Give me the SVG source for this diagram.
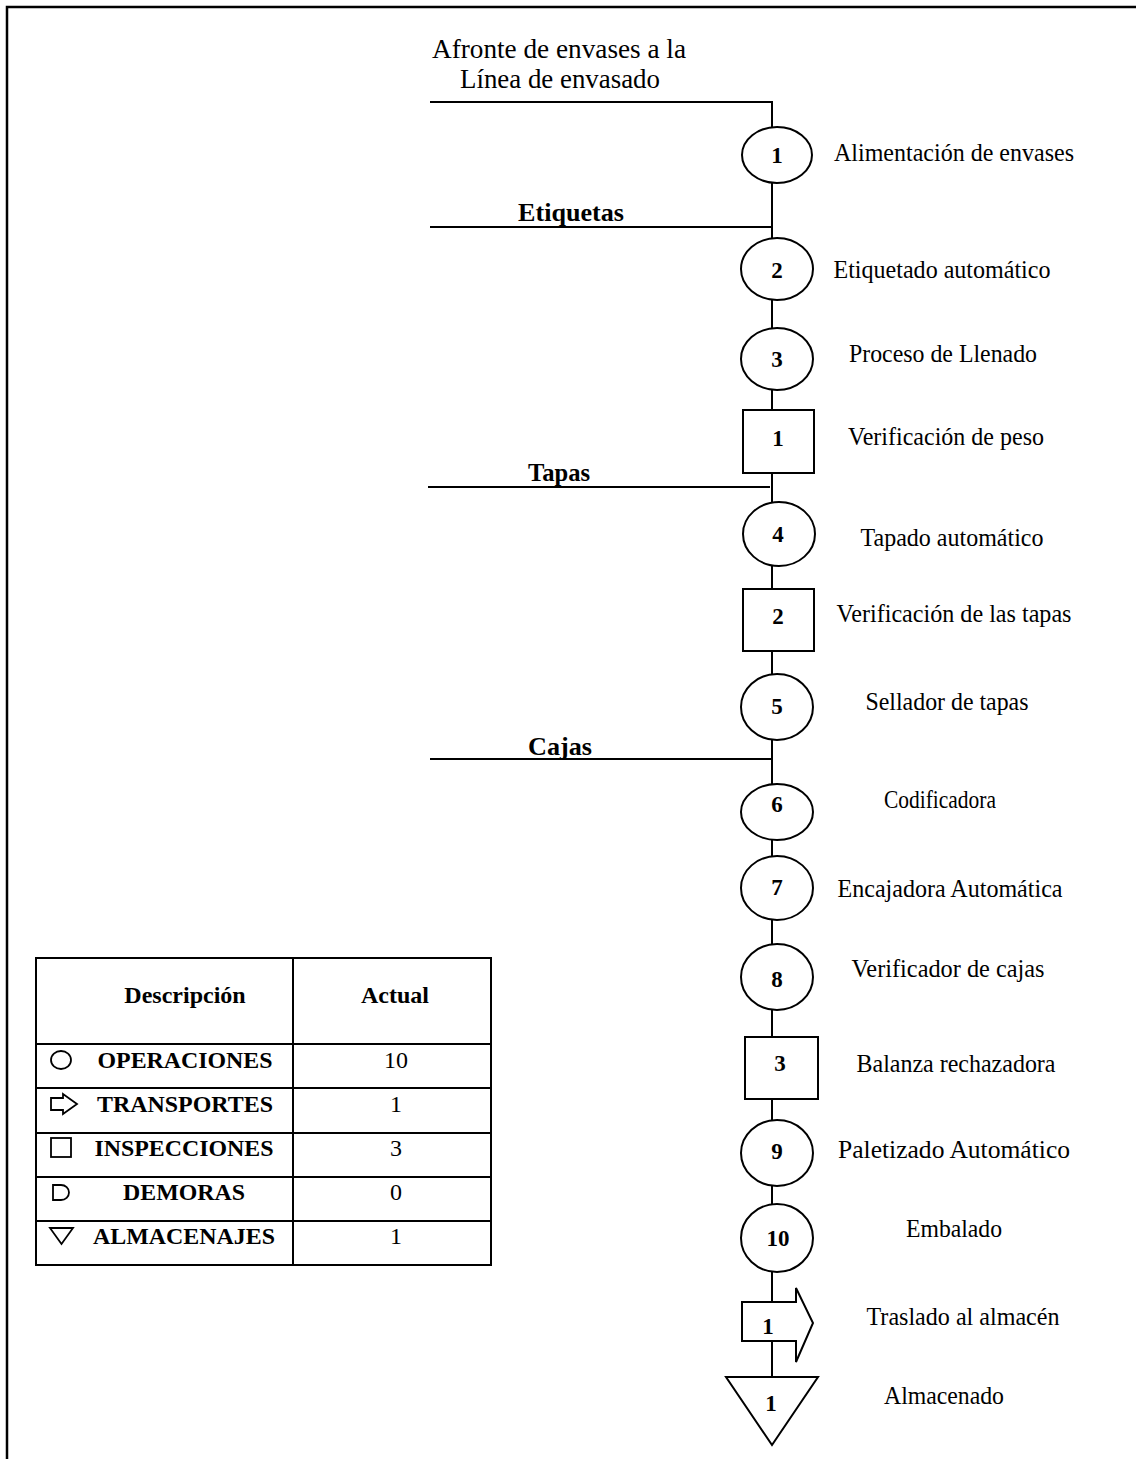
<svg xmlns="http://www.w3.org/2000/svg" width="1136" height="1459" viewBox="0 0 1136 1459">
<style>
  .ln{stroke:#000;stroke-width:2;fill:none}
  .sh{stroke:#000;stroke-width:2;fill:#fff}
  .num{font-family:"Liberation Serif","Times New Roman",serif;font-weight:bold;font-size:23px;text-anchor:middle;fill:#000}
  .lbl{font-family:"Liberation Serif","Times New Roman",serif;font-size:25.5px;text-anchor:middle;fill:#000}
  .bl{font-family:"Liberation Serif","Times New Roman",serif;font-weight:bold;font-size:25px;text-anchor:middle;fill:#000}
  .ttl{font-family:"Liberation Serif","Times New Roman",serif;font-size:28px;text-anchor:middle;fill:#000}
  .th{font-family:"Liberation Serif","Times New Roman",serif;font-weight:bold;font-size:24px;text-anchor:middle;fill:#000}
  .tv{font-family:"Liberation Serif","Times New Roman",serif;font-size:24px;text-anchor:middle;fill:#000}
  .ic{stroke:#000;stroke-width:1.8;fill:none}
</style>
<rect width="1136" height="1459" fill="#fff"/>
<path d="M7,1459 V7 H1136" fill="none" stroke="#000" stroke-width="2.5"/>

<g id="title">
  <text class="ttl" x="559" y="58" textLength="254" lengthAdjust="spacingAndGlyphs">Afronte de envases a la</text>
  <text class="ttl" x="560" y="88" textLength="200" lengthAdjust="spacingAndGlyphs">Línea de envasado</text>
</g>

<g id="connectors">
  <path class="ln" d="M430,102 H772 V1377"/>
  <line class="ln" x1="430" y1="227" x2="772" y2="227"/>
  <line class="ln" x1="428" y1="487" x2="770" y2="487"/>
  <line class="ln" x1="430" y1="759" x2="772" y2="759"/>
  <text class="bl" x="571" y="221" textLength="106" lengthAdjust="spacingAndGlyphs">Etiquetas</text>
  <text class="bl" x="559" y="481" textLength="62" lengthAdjust="spacingAndGlyphs">Tapas</text>
  <text class="bl" x="560" y="755" textLength="64" lengthAdjust="spacingAndGlyphs">Cajas</text>
</g>

<g id="op1"><ellipse class="sh" cx="777" cy="155" rx="35" ry="28"/><text class="num" x="777" y="163">1</text><text class="lbl" x="954" y="161" textLength="240" lengthAdjust="spacingAndGlyphs">Alimentación de envases</text></g>
<g id="op2"><ellipse class="sh" cx="777" cy="269" rx="36" ry="31"/><text class="num" x="777" y="278">2</text><text class="lbl" x="942" y="278" textLength="217" lengthAdjust="spacingAndGlyphs">Etiquetado automático</text></g>
<g id="op3"><ellipse class="sh" cx="777" cy="359" rx="36" ry="31"/><text class="num" x="777" y="367">3</text><text class="lbl" x="943" y="362" textLength="188" lengthAdjust="spacingAndGlyphs">Proceso de Llenado</text></g>
<g id="insp1"><rect class="sh" x="743" y="410" width="71" height="63"/><text class="num" x="778" y="446">1</text><text class="lbl" x="946" y="445" textLength="196" lengthAdjust="spacingAndGlyphs">Verificación de peso</text></g>
<g id="op4"><ellipse class="sh" cx="779" cy="534" rx="36" ry="32"/><text class="num" x="778" y="542">4</text><text class="lbl" x="952" y="546" textLength="183" lengthAdjust="spacingAndGlyphs">Tapado automático</text></g>
<g id="insp2"><rect class="sh" x="743" y="589" width="71" height="62"/><text class="num" x="778" y="624">2</text><text class="lbl" x="954" y="622" textLength="235" lengthAdjust="spacingAndGlyphs">Verificación de las tapas</text></g>
<g id="op5"><ellipse class="sh" cx="777" cy="707" rx="36" ry="33"/><text class="num" x="777" y="714">5</text><text class="lbl" x="947" y="710" textLength="163" lengthAdjust="spacingAndGlyphs">Sellador de tapas</text></g>
<g id="op6"><ellipse class="sh" cx="777" cy="812" rx="36" ry="28"/><text class="num" x="777" y="812">6</text><text class="lbl" x="940" y="808" textLength="112" lengthAdjust="spacingAndGlyphs">Codificadora</text></g>
<g id="op7"><ellipse class="sh" cx="777" cy="888" rx="36" ry="32"/><text class="num" x="777" y="895">7</text><text class="lbl" x="950" y="897" textLength="225" lengthAdjust="spacingAndGlyphs">Encajadora Automática</text></g>
<g id="op8"><ellipse class="sh" cx="777" cy="977" rx="36" ry="33"/><text class="num" x="777" y="987">8</text><text class="lbl" x="948" y="977" textLength="193" lengthAdjust="spacingAndGlyphs">Verificador de cajas</text></g>
<g id="insp3"><rect class="sh" x="745" y="1037" width="73" height="62"/><text class="num" x="780" y="1071">3</text><text class="lbl" x="956" y="1072" textLength="199" lengthAdjust="spacingAndGlyphs">Balanza rechazadora</text></g>
<g id="op9"><ellipse class="sh" cx="777" cy="1153" rx="36" ry="33"/><text class="num" x="777" y="1159">9</text><text class="lbl" x="954" y="1158" textLength="232" lengthAdjust="spacingAndGlyphs">Paletizado Automático</text></g>
<g id="op10"><ellipse class="sh" cx="777" cy="1238" rx="36" ry="34"/><text class="num" x="778" y="1246">10</text><text class="lbl" x="954" y="1237" textLength="96" lengthAdjust="spacingAndGlyphs">Embalado</text></g>
<g id="transp1"><polygon class="sh" points="742,1302 796,1302 796,1288 813,1323 796,1362 796,1341 742,1341"/><text class="num" x="768" y="1334">1</text><text class="lbl" x="963" y="1325" textLength="193" lengthAdjust="spacingAndGlyphs">Traslado al almacén</text></g>
<g id="store1"><polygon class="sh" points="726,1377 818,1377 772,1445"/><text class="num" x="771" y="1411">1</text><text class="lbl" x="944" y="1404" textLength="120" lengthAdjust="spacingAndGlyphs">Almacenado</text></g>

<g id="legend">
  <rect x="36" y="958" width="455" height="307" fill="none" stroke="#000" stroke-width="2"/>
  <line class="ln" x1="293" y1="958" x2="293" y2="1265"/>
  <line class="ln" x1="36" y1="1044" x2="491" y2="1044"/>
  <line class="ln" x1="36" y1="1088" x2="491" y2="1088"/>
  <line class="ln" x1="36" y1="1133" x2="491" y2="1133"/>
  <line class="ln" x1="36" y1="1177" x2="491" y2="1177"/>
  <line class="ln" x1="36" y1="1221" x2="491" y2="1221"/>
  <text class="th" x="185" y="1003">Descripción</text>
  <text class="th" x="395" y="1003">Actual</text>
  <ellipse class="ic" cx="61" cy="1060" rx="10" ry="9"/>
  <polygon class="ic" points="51,1098 63,1098 63,1094 77,1104 63,1114 63,1110 51,1110"/>
  <rect class="ic" x="51" y="1138" width="20" height="19"/>
  <path class="ic" d="M53,1185 H61 A8,7.5 0 0 1 61,1200 H53 Z"/>
  <polygon class="ic" points="50,1228 73,1228 61.5,1244"/>
  <text class="th" x="185" y="1068" textLength="175" lengthAdjust="spacingAndGlyphs">OPERACIONES</text>
  <text class="th" x="185" y="1112" textLength="176" lengthAdjust="spacingAndGlyphs">TRANSPORTES</text>
  <text class="th" x="184" y="1156" textLength="179" lengthAdjust="spacingAndGlyphs">INSPECCIONES</text>
  <text class="th" x="184" y="1200" textLength="122" lengthAdjust="spacingAndGlyphs">DEMORAS</text>
  <text class="th" x="184" y="1244" textLength="182" lengthAdjust="spacingAndGlyphs">ALMACENAJES</text>
  <text class="tv" x="396" y="1068">10</text>
  <text class="tv" x="396" y="1112">1</text>
  <text class="tv" x="396" y="1156">3</text>
  <text class="tv" x="396" y="1200">0</text>
  <text class="tv" x="396" y="1244">1</text>
</g>
</svg>
